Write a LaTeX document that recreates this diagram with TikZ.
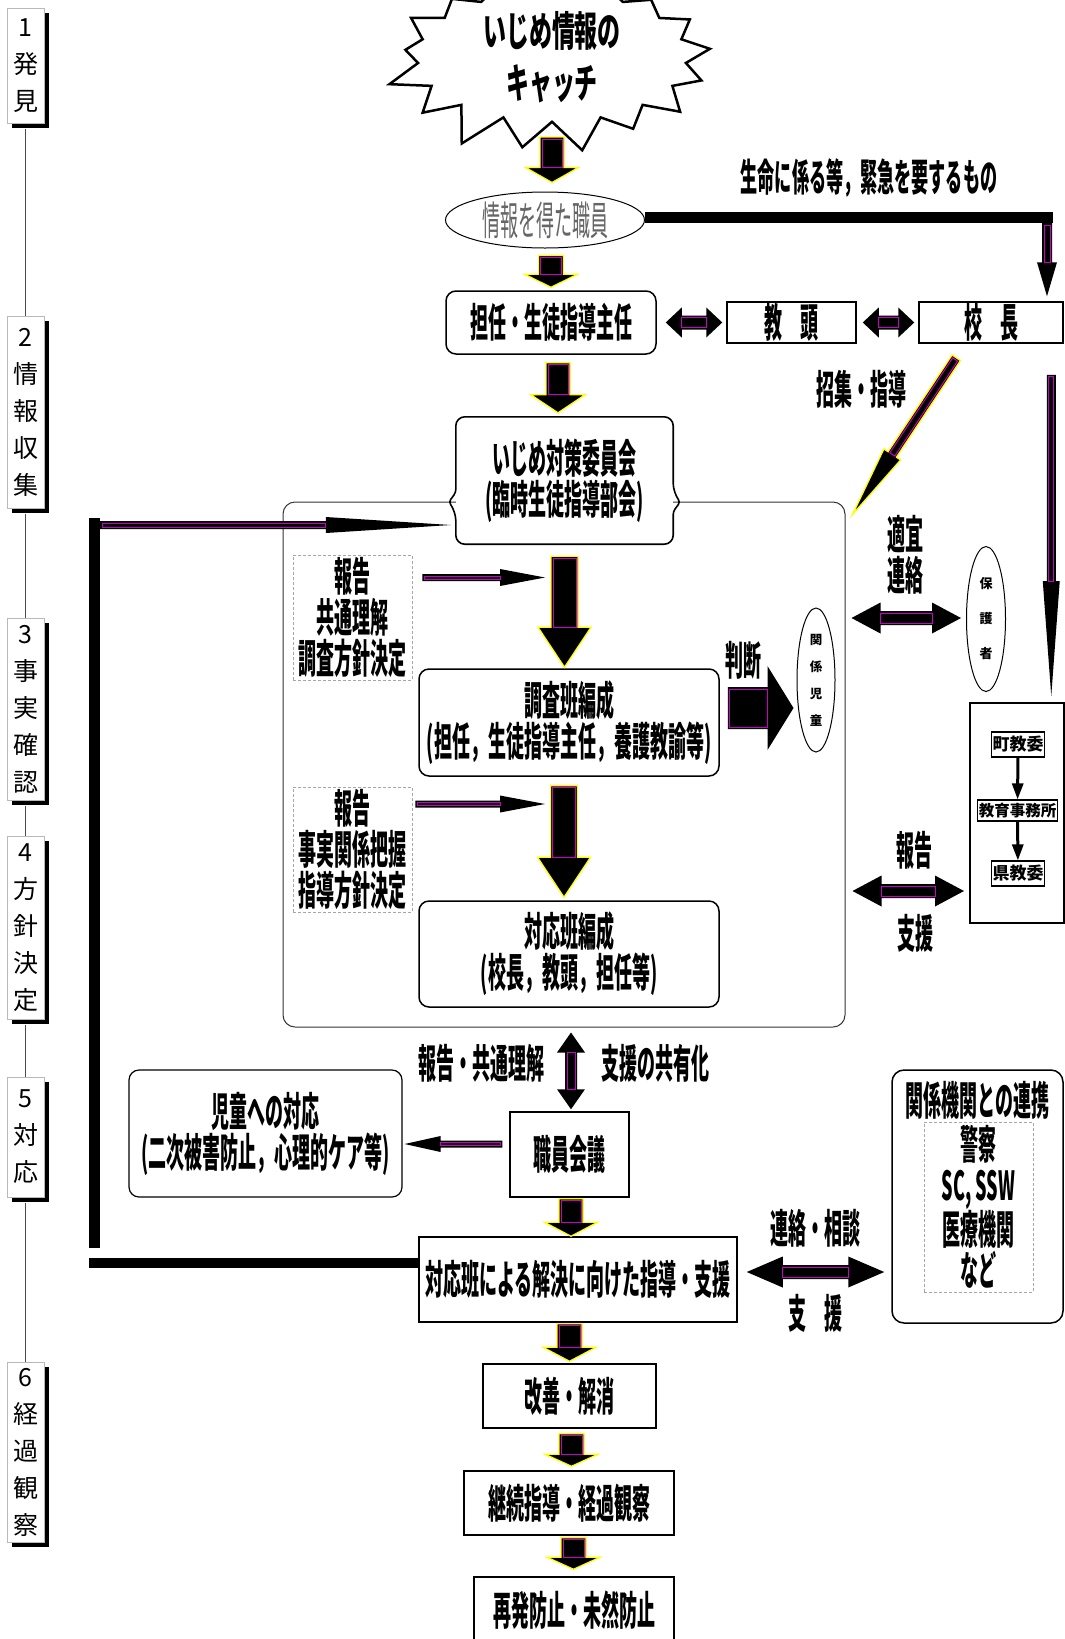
\documentclass[tikz,border=0pt]{standalone}
\usepackage{fontspec}
\setmainfont{Noto Sans CJK JP}
\newfontfamily\jpc[FakeStretch=0.45]{Noto Sans CJK JP}
\newfontfamily\jpw[FakeStretch=0.56]{Noto Sans CJK JP}
\newfontfamily\jpn{Noto Sans CJK JP}
\usetikzlibrary{calc,shapes.geometric,shapes.symbols,shadows,arrows.meta}
\definecolor{inmag}{RGB}{200,0,200}
\definecolor{fatyel}{RGB}{255,255,0}
\tikzset{
  stage/.style={draw=gray!55, line width=1, fill=white, minimum width=37pt, inner sep=0pt,
    drop shadow={shadow xshift=5pt, shadow yshift=-5pt, opacity=1, fill=black},
    align=center, font=\jpn\fontsize{25pt}{37pt}\selectfont},
  big/.style={font=\jpc\bfseries\fontsize{40pt}{41pt}\selectfont, align=center, inner sep=0pt},
  box/.style={big, draw, line width=1.5, fill=white},
  rbox/.style={box, rounded corners=10},
  dotbox/.style={big, draw=gray!70, densely dashed, line width=0.8},
  fatfill/.style={fill=black, draw=fatyel, line width=1.3},
  fatplain/.style={fill=black},
  fatinner/.style={draw=inmag, line width=1},
}
\newcommand\fatarrow[6][fatfill]{%
  \path let \p1=(#2), \p2=(#3), \n1={atan2(\y2-\y1,\x2-\x1)},
    \n2={veclen(\x2-\x1,\y2-\y1)} in \pgfextra{\xdef\fatang{\n1}\xdef\fatlen{\n2}};
  \begin{scope}[shift={(#2)}, rotate=\fatang]
    \path[#1] (0,-#4) -- (\fatlen-#6,-#4) -- (\fatlen-#6,-#5) -- (\fatlen,0)
      -- (\fatlen-#6,#5) -- (\fatlen-#6,#4) -- (0,#4) -- cycle;
    \draw[fatinner] (2,-#4+2) rectangle (\fatlen-#6,#4-2);
  \end{scope}}
\newcommand\fatboth[6][fatplain]{%
  \path let \p1=(#2), \p2=(#3), \n1={atan2(\y2-\y1,\x2-\x1)},
    \n2={veclen(\x2-\x1,\y2-\y1)} in \pgfextra{\xdef\fatang{\n1}\xdef\fatlen{\n2}};
  \begin{scope}[shift={(#2)}, rotate=\fatang]
    \path[#1] (0,0) -- (#6,-#5) -- (#6,-#4) -- (\fatlen-#6,-#4) -- (\fatlen-#6,-#5)
      -- (\fatlen,0) -- (\fatlen-#6,#5) -- (\fatlen-#6,#4) -- (#6,#4) -- (#6,#5) -- cycle;
    \draw[fatinner] (#6,-#4+2) rectangle (\fatlen-#6,#4-2);
  \end{scope}}
\begin{document}
\begin{tikzpicture}[x=1pt,y=-1pt]
    \useasboundingbox (0,0) rectangle (1065,1639);
    \fill[white] (0,0) rectangle (1065,1639);
    % stages
    \node[stage, minimum height=115pt] (s1) at (25.5,65.5) {1\\発\\見};
    \node[stage, minimum height=192pt] (s2) at (25.5,412) {2\\情\\報\\収\\集};
    \node[stage, minimum height=182pt] (s3) at (25.5,709) {3\\事\\実\\確\\認};
    \node[stage, minimum height=183pt] (s4) at (25.5,927.5) {4\\方\\針\\決\\定};
    \node[stage, minimum height=120pt] (s5) at (25.5,1137) {5\\対\\応};
    \node[stage, minimum height=180pt] (s6) at (25.5,1452) {6\\経\\過\\観\\察};
    \foreach \a/\b in {s1/s2,s2/s3,s3/s4,s4/s5,s5/s6}
        \draw[gray!60!black, line width=0.8] ($(\a.south)+(0,5)$) -- (\b.north);
    % frame and committee
    \node[draw=black!80, line width=1, rounded corners=12, minimum width=562pt, minimum height=525pt] (frame) at (564,764.5) {};
    \node[big, fill=white, minimum width=217pt, minimum height=127pt] (committee) at (564.5,480.5) {いじめ対策委員会\\(臨時生徒指導部会)};
    \draw[line width=1.6, rounded corners=9] (committee.north) -- (committee.north east)
        -- ($(committee.east)+(0,12)$) [rounded corners=3] -- ($(committee.east)+(7,21.5)$)
        -- ($(committee.east)+(0,31)$) [rounded corners=9] -- (committee.south east)
        -- (committee.south west) -- ($(committee.west)+(0,31)$) [rounded corners=3]
        -- ($(committee.west)+(-7,21.5)$) -- ($(committee.west)+(0,12)$) [rounded corners=9]
        -- (committee.north west) -- cycle;
    % top part
    \node[starburst, draw, line width=2.5, fill=white, starburst points=17, starburst point height=38pt,
        random starburst=7, minimum width=345pt, minimum height=140pt, align=center, inner sep=0pt,
        font=\jpw\bfseries\fontsize{41pt}{52pt}\selectfont] (star) at (552,57) {いじめ情報の\\キャッチ};
    \node[ellipse, draw, line width=1, minimum width=199pt, minimum height=56pt, inner sep=0pt,
        font=\jpc\fontsize{40pt}{41pt}\selectfont, text=black!60] (staff) at (545,220) {情報を得た職員};
    \node[big, font=\jpc\bfseries\fontsize{38pt}{41pt}\selectfont] (emlabel) at (869,178) {生命に係る等，緊急を要するもの};
    \node[rbox, minimum width=210pt, minimum height=63pt] (tannin) at (551,322.5) {担任・生徒指導主任};
    \node[box, minimum width=129pt, minimum height=41pt] (kyoto) at (791.5,322.5) {教　頭};
    \node[box, minimum width=144pt, minimum height=41pt] (kocho) at (991,322.5) {校　長};
    \node[big] (shoshu) at (861,389) {招集・指導};
    % inside frame
    \node[dotbox, minimum width=119pt, minimum height=125pt] (report1) at (352.5,617.5) {報告\\共通理解\\調査方針決定};
    \node[rbox, minimum width=300pt, minimum height=107pt] (survey) at (569,722.5) {調査班編成\\(担任，生徒指導主任，養護教諭等)};
    \node[dotbox, minimum width=119pt, minimum height=125pt] (report2) at (352.5,849.5) {報告\\事実関係把握\\指導方針決定};
    \node[rbox, minimum width=300pt, minimum height=106pt] (response) at (569,954) {対応班編成\\(校長，教頭，担任等)};
    % right side
    \node[big] (judge) at (743,660) {判断};
    \node[ellipse, draw, line width=1, minimum width=38pt, minimum height=144pt, inner sep=0pt, align=center,
        font=\jpn\bfseries\fontsize{12.5pt}{27pt}\selectfont] (child) at (816,680) {関\\係\\児\\童};
    \node[ellipse, draw, line width=1, minimum width=39pt, minimum height=145pt, inner sep=0pt, align=center,
        font=\jpn\bfseries\fontsize{13pt}{35pt}\selectfont] (guardian) at (986,619) {保\\護\\者};
    \node[big] (tekigi) at (905,555) {適宜\\連絡};
    \node[draw, line width=2, minimum width=94pt, minimum height=220pt] (board) at (1017,813) {};
    \node[draw, line width=1.2, inner sep=1pt, minimum height=25pt, font=\jpn\bfseries\fontsize{17pt}{17pt}\selectfont] (town) at (1018,744.5) {町教委};
    \node[draw, line width=1.2, inner sep=1pt, minimum height=21pt, font=\jpn\bfseries\fontsize{15.5pt}{16pt}\selectfont] (office) at (1017.5,810.5) {教育事務所};
    \node[draw, line width=1.2, inner sep=1pt, minimum height=25pt, font=\jpn\bfseries\fontsize{17pt}{17pt}\selectfont] (pref) at (1018,873.5) {県教委};
    \draw[line width=3, -{Triangle[length=16pt,width=11pt]}] (town) -- (office);
    \draw[line width=3, -{Triangle[length=16pt,width=11pt]}] (office) -- (pref);
    \node[big] (hokoku) at (914,850) {報告};
    \node[big] (shien) at (915,933) {支援};
    % lower part
    \node[big] (share1) at (481,1063) {報告・共通理解};
    \node[big] (share2) at (655,1063) {支援の共有化};
    \node[box, minimum width=119pt, minimum height=85pt] (meeting) at (569.5,1154.5) {職員会議};
    \node[rbox, line width=1.2, minimum width=273pt, minimum height=127pt] (childresp) at (265.5,1133.5) {児童への対応\\(二次被害防止，心理的ケア等)};
    \node[box, minimum width=318pt, minimum height=85pt] (solve) at (578,1279.5) {対応班による解決に向けた指導・支援};
    \node[draw, line width=1.5, rounded corners=12, minimum width=171pt, minimum height=253pt] (agencies) at (977.5,1196.5) {};
    \node[big] (agtitle) at (977.5,1100) {関係機関との連携};
    \node[dotbox, minimum width=109pt, minimum height=170pt] (aglist) at (978.5,1207) {警察\\SC, SSW\\医療機関\\など};
    \node[big] (renraku) at (815,1228) {連絡・相談};
    \node[big] (shien2) at (815,1313) {支　援};
    \node[box, minimum width=173pt, minimum height=64pt] (improve) at (569.5,1396) {改善・解消};
    \node[box, minimum width=210pt, minimum height=64pt] (continue) at (569,1503) {継続指導・経過観察};
    \node[box, minimum width=200pt, minimum height=66pt] (prevent) at (574,1610) {再発防止・未然防止};
    % connectors
    \coordinate (emg) at (1047,217.5);
    \coordinate (loopbot) at (94.5,1248);
    \coordinate (looptop) at (94.5,518);
    \coordinate (loopin) at (100,525);
    \coordinate (loopfoot) at (89,1263);
    \draw[line width=11] ($(staff.east)+(0,-2.5)$) -- ($(emg)+(5.5,0)$);
    \fatarrow[fatplain]{$(emg)+(0,5.5)$}{$(emg |- kocho.north)+(0,-5)$}{5}{10}{34}
    \fatarrow{$(star.center)+(0,80)$}{$(star.center |- staff.north)+(0,-9)$}{12}{26.5}{15}
    \fatarrow{$(tannin.north |- staff.south)+(0,7)$}{$(tannin.north)+(0,-3)$}{12.5}{26.5}{13}
    \fatarrow{$(tannin.south)+(7,8)$}{$(committee.north -| tannin.south)+(7,-4)$}{12}{27}{18}
    \fatboth{$(tannin.east)+(9,0)$}{$(kyoto.west)+(-4,0)$}{7}{15}{16}
    \fatboth{$(kyoto.east)+(6,0)$}{$(kocho.west)+(-4,0)$}{7}{15}{16}
    \fatarrow{$(kocho.south west)+(38,14)$}{$(frame.north east)+(7,13)$}{5}{10}{72}
    \fatarrow[fatplain]{$(kocho.south east)+(-12.5,31)$}{$(kocho.south east |- board.north)+(-12.5,-6)$}{4.5}{8.5}{115}
    \draw[line width=11] (loopbot) -- (looptop);
    \fatarrow[fatplain]{loopin}{$(loopin -| committee.west)+(-5,0)$}{4}{8}{125}
    \draw[line width=10] (loopfoot) -- (loopfoot -| solve.west);
    \fatarrow{$(committee.south)+(0,12)$}{$(committee.south |- survey.north)+(0,-1)$}{13.5}{26.5}{40}
    \fatarrow{$(survey.south)+(-5,9)$}{$(survey.south |- response.north)+(-5,-3)$}{13.5}{26.5}{40}
    \fatarrow[fatplain]{$(report1.east)+(10,-40)$}{$(report1.east -| survey.north)+(-24,-40)$}{3.5}{8.5}{45}
    \fatarrow[fatplain]{$(report2.east)+(3,-45.5)$}{$(report2.east -| response.north)+(-24,-45.5)$}{3.5}{8.5}{45}
    \fatarrow[fatplain]{$(survey.east)+(8,-14.5)$}{$(survey.east -| child.west)+(-3,-14.5)$}{21}{42}{26}
    \fatboth{$(frame.east |- guardian.west)+(6,-1)$}{$(guardian.west)+(-5,-1)$}{7}{15.5}{29}
    \fatboth{$(frame.east |- board.south)+(7,-33)$}{$(board.south west)+(-5,-33)$}{7}{15.5}{29}
    \fatboth{$(meeting.north |- frame.south)+(1.5,5)$}{$(meeting.north)+(1.5,-2)$}{6}{14}{20}
    \fatarrow[fatplain]{$(meeting.west)+(-7,-10.5)$}{$(meeting.west -| childresp.east)+(2,-10.5)$}{3.5}{8}{36}
    \fatarrow{$(meeting.south)+(1.5,1)$}{$(meeting.south |- solve.north)+(1.5,0)$}{12}{26.5}{14}
    \fatboth{$(solve.east)+(9,-7.5)$}{$(solve.east -| agencies.west)+(-7,-7.5)$}{7}{15.5}{36}
    \fatarrow{$(improve.north |- solve.south)+(0,1)$}{$(improve.north)+(0,-2)$}{12.5}{26.5}{14}
    \fatarrow{$(improve.south)+(2,5)$}{$(improve.south |- continue.north)+(2,-4)$}{12.5}{26.5}{12}
    \fatarrow{$(continue.south)+(4.5,2)$}{$(continue.south |- prevent.north)+(4.5,-7)$}{12.5}{26.5}{12}
\end{tikzpicture}
\end{document}
